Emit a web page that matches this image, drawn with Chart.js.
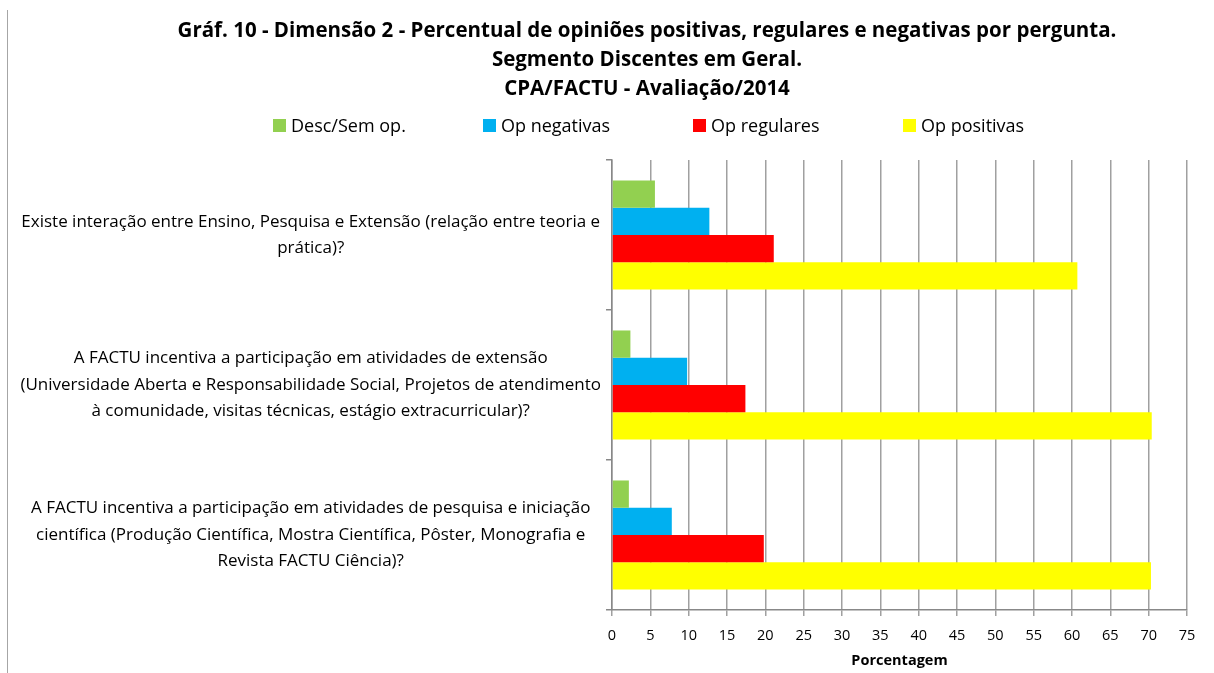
<!DOCTYPE html>
<html>
<head>
<meta charset="utf-8">
<script src="https://cdn.jsdelivr.net/npm/chart.js@4.4.1/dist/chart.umd.min.js"></script>
<style>
  html, body { margin: 0; padding: 0; background: #fff; }
  #wrap { position: relative; width: 1214px; height: 673px; font-family: 'Open Sans', sans-serif; color: #000; }
  #frame { position: absolute; left: 7px; top: 10px; bottom: 0; border-left: 1px solid #a6a6a6; }
  canvas { position: absolute; left: 0; top: 0; }
  #titulo { position: absolute; left: 47px; width: 1200px; top: 15px; text-align: center;
            font-weight: bold; font-size: 20.5px; line-height: 29px; }
  #legenda { position: absolute; left: 273px; top: 113px; display: flex; font-size: 18px; line-height: 24px; }
  #legenda .item { width: 210px; display: flex; align-items: center; white-space: nowrap; }
  #legenda .caixa { width: 13px; height: 13px; margin-right: 5px; flex: none; }
</style>
</head>
<body>
<div id="wrap">
  <div id="frame"></div>
  <canvas id="grafico" width="1214" height="673"></canvas>
  <div id="titulo"></div>
  <div id="legenda"></div>
</div>
<script>
// perguntas (categorias), de cima para baixo
const perguntas = [
  ["Existe interação entre Ensino, Pesquisa e Extensão (relação entre teoria e", "prática)?"],
  ["A FACTU incentiva a participação em atividades de extensão", "(Universidade Aberta e Responsabilidade Social, Projetos de atendimento", "à comunidade, visitas técnicas, estágio extracurricular)?"],
  ["A FACTU incentiva a participação em atividades de pesquisa e iniciação", "científica (Produção Científica, Mostra Científica, Pôster, Monografia e", "Revista FACTU Ciência)?"]
];

const descSemOp = [5.6, 2.4, 2.2];
const opNegativas = [12.7, 9.8, 7.8];
const opRegulares = [21.1, 17.4, 19.8];
const opPositivas = [60.7, 70.4, 70.3];

const titulo = [
  "Gráf. 10 - Dimensão 2 - Percentual de opiniões positivas, regulares e negativas por pergunta.",
  "Segmento Discentes em Geral.",
  "CPA/FACTU - Avaliação/2014"
];

const fonte = "'Open Sans', sans-serif";

const ctx = document.getElementById("grafico").getContext("2d");
const grafico = new Chart(ctx, {
  type: "bar",
  data: {
    labels: perguntas,
    datasets: [
      { label: "Desc/Sem op.", data: descSemOp, backgroundColor: "#92D050" },
      { label: "Op negativas", data: opNegativas, backgroundColor: "#00B0F0" },
      { label: "Op regulares", data: opRegulares, backgroundColor: "#FF0000" },
      { label: "Op positivas", data: opPositivas, backgroundColor: "#FFFF00" }
    ]
  },
  options: {
    indexAxis: "y",
    responsive: false,
    animation: false,
    datasets: {
      bar: { categoryPercentage: 0.727, barPercentage: 1.0 }
    },
    layout: { padding: { left: 10, right: 27, top: 160, bottom: 0 } },
    plugins: {
      title: { display: false },
      legend: { display: false },
      tooltip: { enabled: false }
    },
    scales: {
      x: {
        min: 0,
        max: 75,
        ticks: { stepSize: 5, color: "#000", padding: 11, font: { family: fonte, size: 14.5 } },
        grid: { color: "#a0a0a0", lineWidth: 1.5, tickLength: 6 },
        border: { color: "#888", width: 1.5 },
        title: {
          display: true,
          text: "Porcentagem",
          color: "#000",
          font: { family: fonte, size: 14.5, weight: "bold" },
          padding: { top: 4, bottom: 3 }
        },
        afterFit: function (scale) { scale.height = 63; }
      },
      y: {
        ticks: { color: "#000", crossAlign: "center", padding: 5, font: { family: fonte, size: 17, lineHeight: 1.55 } },
        grid: { drawOnChartArea: false, tickLength: 6, color: "#888", lineWidth: 1.5 },
        border: { color: "#888", width: 1.5 },
        afterFit: function (scale) { scale.width = 602; }
      }
    }
  }
});

// título e legenda em HTML (colunas de largura fixa, como no original)
document.getElementById("titulo").innerHTML = titulo.join("<br>");
const legenda = document.getElementById("legenda");
grafico.data.datasets.forEach(function (ds) {
  const item = document.createElement("div");
  item.className = "item";
  const caixa = document.createElement("span");
  caixa.className = "caixa";
  caixa.style.background = ds.backgroundColor;
  const texto = document.createElement("span");
  texto.textContent = ds.label;
  item.appendChild(caixa);
  item.appendChild(texto);
  legenda.appendChild(item);
});
</script>
</body>
</html>
